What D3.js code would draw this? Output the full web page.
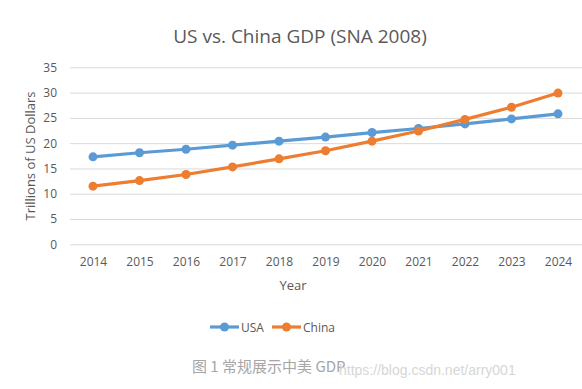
<!DOCTYPE html>
<html>
<head>
<meta charset="utf-8">
<script src="https://cdn.jsdelivr.net/npm/d3@7"></script>
<style>
  body { margin: 0; background: #fff; }
  svg text { font-family: "Open Sans", "DejaVu Sans", sans-serif; }
</style>
</head>
<body>
<svg width="582" height="389"></svg>
<script>
var years = [2014, 2015, 2016, 2017, 2018, 2019, 2020, 2021, 2022, 2023, 2024];
var usa = [17.3, 18.1, 18.8, 19.6, 20.4, 21.2, 22.1, 22.9, 23.8, 24.8, 25.8];
var china = [11.5, 12.6, 13.8, 15.3, 16.9, 18.5, 20.4, 22.4, 24.7, 27.1, 29.9];
var yTicks = [0, 5, 10, 15, 20, 25, 30, 35];

var svg = d3.select("svg"),
    width = +svg.attr("width"),
    height = +svg.attr("height");

var x = d3.scalePoint().domain(years).range([93, 558]);
var y = d3.scaleLinear().domain([0, 35]).range([244.3, 67.3]);

// title
svg.append("text")
  .attr("x", 300).attr("y", 43)
  .attr("text-anchor", "middle")
  .style("font-size", "19px")
  .style("fill", "#595959")
  .text("US vs. China GDP (SNA 2008)");

// grid + y labels
var yAxis = d3.axisLeft(y).tickValues(yTicks).tickSize(-(582 - 70)).tickPadding(13);
svg.append("g")
  .attr("transform", "translate(70,0)")
  .call(yAxis)
  .call(g => g.select(".domain").remove())
  .call(g => g.selectAll("line").attr("stroke", "#d9d9d9").attr("stroke-width", 1))
  .call(g => g.selectAll("text").style("font-size", "12px").style("fill", "#595959")
    .style("font-family", "'Open Sans', sans-serif"));

// x labels
svg.append("g")
  .attr("transform", "translate(0,244.3)")
  .call(d3.axisBottom(x).tickSize(0).tickPadding(13))
  .call(g => g.select(".domain").remove())
  .call(g => g.selectAll("text").style("font-size", "12px").style("fill", "#595959")
    .style("font-family", "'Open Sans', sans-serif"));

// axis titles
svg.append("text")
  .attr("x", 293).attr("y", 290)
  .attr("text-anchor", "middle")
  .style("font-size", "13px").style("fill", "#595959")
  .text("Year");
svg.append("text")
  .attr("transform", "translate(35,156) rotate(-90)")
  .attr("text-anchor", "middle")
  .style("font-size", "13px").style("fill", "#595959")
  .text("Trillions of US Dollars");

var series = [
  { name: "USA", values: usa, color: "#5b9bd5" },
  { name: "China", values: china, color: "#ed7d31" }
];

var line = d3.line()
  .x((d, i) => x(years[i]))
  .y(d => y(d));

series.forEach(function (s) {
  svg.append("path")
    .datum(s.values)
    .attr("fill", "none")
    .attr("stroke", s.color)
    .attr("stroke-width", 3.2)
    .attr("stroke-linejoin", "round")
    .attr("d", line);
  svg.append("g").selectAll("circle")
    .data(s.values)
    .enter().append("circle")
    .attr("cx", (d, i) => x(years[i]))
    .attr("cy", d => y(d))
    .attr("r", 4.5)
    .attr("fill", s.color);
});

// legend
var legend = svg.append("g").attr("transform", "translate(210,327)");
var lx = 0;
series.forEach(function (s) {
  var lg = legend.append("g").attr("transform", "translate(" + lx + ",0)");
  lg.append("line").attr("x1", 0).attr("x2", 29).attr("y1", 0).attr("y2", 0)
    .attr("stroke", s.color).attr("stroke-width", 3.2);
  lg.append("circle").attr("cx", 14.5).attr("cy", 0).attr("r", 4.5).attr("fill", s.color);
  lg.append("text").attr("x", 31).attr("y", 4.5)
    .style("font-size", "12px").style("fill", "#595959").text(s.name);
  lx += 62;
});

// caption + watermark
svg.append("text")
  .attr("x", 192).attr("y", 372)
  .style("font-size", "15px").style("fill", "#a6a6a6")
  .style("font-family", "'Noto Sans CJK SC', sans-serif")
  .text("图 1 常规展示中美 GDP");
svg.append("text")
  .attr("x", 339).attr("y", 375)
  .style("font-size", "14px").style("fill", "#d6d6d6")
  .style("font-family", "'Liberation Sans', Arial, sans-serif")
  .text("https://blog.csdn.net/arry001");
</script>
</body>
</html>
